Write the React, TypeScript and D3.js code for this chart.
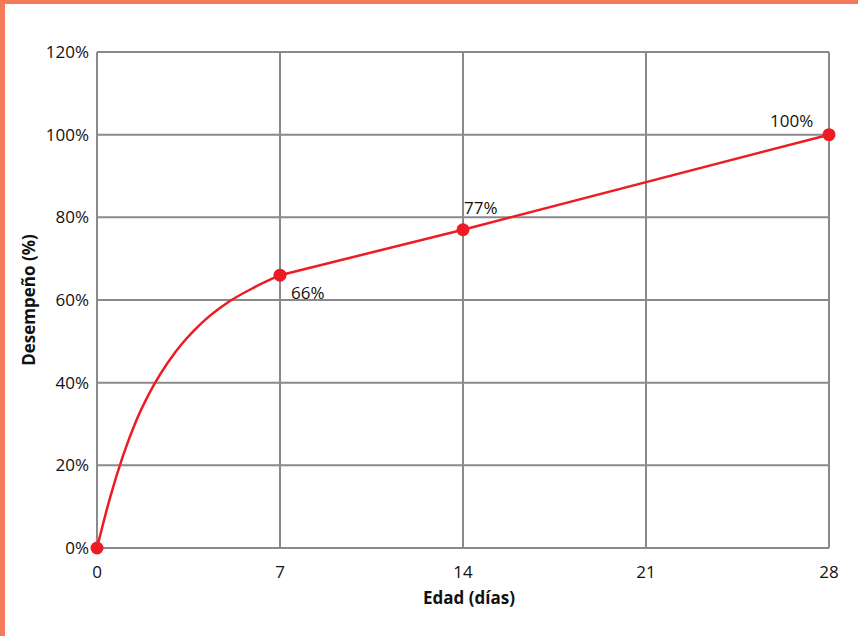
import React from "react";
import * as d3 from "d3";

const days = [0, 7, 14, 28];
const performance = [0, 66, 77, 100];
const pointLabels = ["", "66%", "77%", "100%"];
// smoothed early-age curve (0 to 7 days)
const curveDays = [0, 0.5, 1, 1.5, 2, 3, 4, 5, 6, 7];
const curvePerf = [0, 12.2, 22.4, 30.8, 37.4, 47.4, 54.4, 59.4, 63.0, 66];
const xTicks = [0, 7, 14, 21, 28];
const yTicks = [0, 20, 40, 60, 80, 100, 120];

const W = 858;
const H = 636;
const L = 97, R = 829, T = 52, B = 548;

export default function App() {
  const x = d3.scaleLinear().domain([0, 28]).range([L, R]);
  const y = d3.scaleLinear().domain([0, 120]).range([B, T]);
  const curveLine = d3
    .line<number>()
    .x((_, i) => x(curveDays[i]))
    .y((d) => y(d))
    .curve(d3.curveMonotoneX);
  const straight = d3
    .line<number>()
    .x((_, i) => x(days[i + 1]))
    .y((d) => y(d));
  const font = "'Open Sans', sans-serif";
  const grid = "#8a8a8c";
  const red = "#ed1c24";
  const labelOffsets = [
    [0, 0],
    [11, 24],
    [1, -16],
    [-59, -8],
  ];
  return (
    <div style={{ position: "absolute", left: 0, top: 0 }}>
      <svg width={W} height={H} style={{ display: "block" }}>
        <rect x={0} y={0} width={W} height={H} fill="#fff" />
        <rect x={0} y={0} width={5} height={H} fill="#f47b57" />
        <rect x={0} y={0} width={W} height={4} fill="#f47b57" />
        {yTicks.map((t) => (
          <line key={"gy" + t} x1={L} x2={R} y1={y(t)} y2={y(t)} stroke={grid} strokeWidth={2} />
        ))}
        {xTicks.map((t) => (
          <line key={"gx" + t} x1={x(t)} x2={x(t)} y1={T} y2={B} stroke={grid} strokeWidth={2} />
        ))}
        {yTicks.map((t) => (
          <text key={"ty" + t} x={89} y={y(t)} dy="0.36em" textAnchor="end" fontFamily={font} fontSize={17} fill="#111">
            {t + "%"}
          </text>
        ))}
        {xTicks.map((t) => (
          <text key={"tx" + t} x={x(t)} y={578} textAnchor="middle" fontFamily={font} fontSize={17} fill="#111">
            {t}
          </text>
        ))}
        <text x={(L + R) / 2 + 6} y={604} textAnchor="middle" fontFamily={font} fontSize={17} fontWeight={700} fill="#111">
          Edad (días)
        </text>
        <text
          transform={`translate(35,${(T + B) / 2}) rotate(-90)`}
          textAnchor="middle"
          fontFamily={font}
          fontSize={17}
          fontWeight={700}
          fill="#111"
        >
          Desempeño (%)
        </text>
        <path d={curveLine(curvePerf) || ""} fill="none" stroke={red} strokeWidth={2.5} />
        <path d={straight(performance.slice(1)) || ""} fill="none" stroke={red} strokeWidth={2.5} />
        {days.map((d, i) => (
          <circle key={"p" + i} cx={x(d)} cy={y(performance[i])} r={6.5} fill={red} />
        ))}
        {days.map((d, i) =>
          pointLabels[i] ? (
            <text
              key={"l" + i}
              x={x(d) + labelOffsets[i][0]}
              y={y(performance[i]) + labelOffsets[i][1]}
              fontFamily={font}
              fontSize={17}
              fill="#111"
            >
              {pointLabels[i]}
            </text>
          ) : null
        )}
      </svg>
    </div>
  );
}
